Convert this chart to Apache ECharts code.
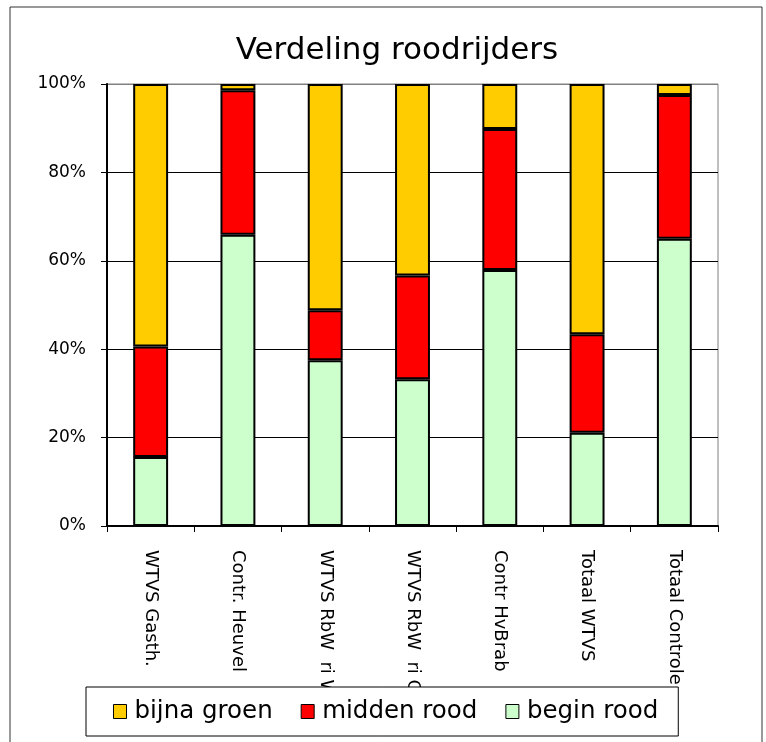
<!DOCTYPE html>
<html>
<head>
<meta charset="utf-8">
<script src="https://cdn.jsdelivr.net/npm/echarts@6/dist/echarts.min.js"></script>
<style>
html,body{margin:0;padding:0;background:#fff;}
#chart{width:766px;height:742px;}
</style>
</head>
<body>
<div id="chart"></div>
<script>
var categories = ['WTVS Gasth.', 'Contr. Heuvel', 'WTVS RbW  ri West', 'WTVS RbW  ri Oost', 'Contr HvBrab', 'Totaal WTVS', 'Totaal Controle'];
var beginRood = [15.6, 65.9, 37.5, 33.2, 57.9, 21.1, 65.0];
var middenRood = [25.0, 32.7, 11.3, 23.5, 31.9, 22.3, 32.5];
var bijnaGroen = [59.4, 1.4, 51.2, 43.3, 10.2, 56.6, 2.5];
var yTicks = [0, 20, 40, 60, 80, 100];

var FONT = 'DejaVu Sans';
var chart = echarts.init(document.getElementById('chart'), null, {renderer: 'canvas'});
var barStyle = function (c) { return {color: c, borderColor: '#000', borderWidth: 2}; };
chart.setOption({
  animation: false,
  backgroundColor: '#fff',
  title: {
    text: 'Verdeling roodrijders',
    left: 392, top: 30, textAlign: 'center',
    textStyle: {fontFamily: FONT, fontSize: 31, fontWeight: 'normal', color: '#000'}
  },
  graphic: [{
    type: 'rect', shape: {x: 10, y: 7, width: 752, height: 760},
    style: {fill: 'none', stroke: '#333', lineWidth: 1}, z: -1
  }],
  grid: {left: 107, right: 48, top: 84, bottom: 216, show: true, borderColor: '#808080', borderWidth: 1},
  legend: {
    data: ['bijna groen', 'midden rood', 'begin rood'],
    left: 86, top: 687,
    padding: [12, 20, 12, 27],
    backgroundColor: '#fff', borderColor: '#000', borderWidth: 1,
    itemWidth: 13, itemHeight: 14, itemGap: 28,
    icon: 'rect',
    itemStyle: {borderWidth: 1, borderColor: '#000'},
    textStyle: {fontFamily: FONT, fontSize: 24.5, color: '#000', padding: [0, 0, 0, 3]},
    z: 10
  },
  xAxis: {
    type: 'category', data: categories,
    axisLine: {lineStyle: {color: '#000', width: 2}},
    axisTick: {show: true, length: 6, lineStyle: {color: '#000', width: 1}},
    axisLabel: {rotate: -90, margin: 24, fontFamily: FONT, fontSize: 18, color: '#000', interval: 0}
  },
  yAxis: {
    type: 'value', min: yTicks[0], max: yTicks[yTicks.length - 1], interval: 20,
    axisLine: {show: true, lineStyle: {color: '#000', width: 2}},
    axisTick: {show: true, length: 6, lineStyle: {color: '#000'}},
    axisLabel: {margin: 21, fontFamily: FONT, fontSize: 17, color: '#000', formatter: '{value}%'},
    splitLine: {show: true, lineStyle: {color: ['#000', '#000', '#000', '#000', '#000', '#808080'], width: 1}}
  },
  series: [
    {name: 'begin rood', type: 'bar', stack: 't', data: beginRood, barWidth: '40%', itemStyle: barStyle('#CCFFCC')},
    {name: 'midden rood', type: 'bar', stack: 't', data: middenRood, barWidth: '40%', itemStyle: barStyle('#FF0000')},
    {name: 'bijna groen', type: 'bar', stack: 't', data: bijnaGroen, barWidth: '40%', itemStyle: barStyle('#FFCC00')}
  ]
});
</script>
</body>
</html>
